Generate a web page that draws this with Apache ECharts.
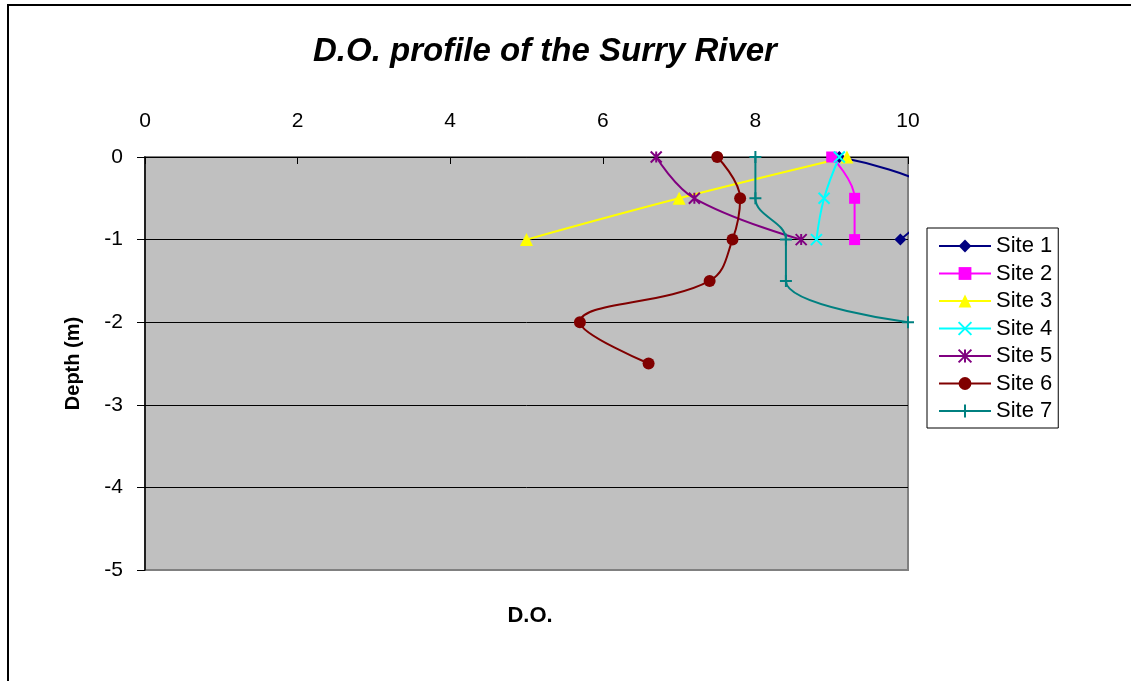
<!DOCTYPE html>
<html>
<head>
<meta charset="utf-8">
<script src="https://cdn.jsdelivr.net/npm/echarts@6/dist/echarts.min.js"></script>
<style>
  html, body { margin: 0; padding: 0; background: #fff; }
  #chart { width: 1131px; height: 681px; }
</style>
</head>
<body>
<div id="chart"></div>
<script>
// depths (m) measured at each site, top down
var depths = [0, -0.5, -1, -1.5, -2, -2.5];
// D.O. readings per site
var site1 = [9.1, 10.4, 9.9];
var site2 = [9.0, 9.3, 9.3];
var site3 = [9.2, 7.0, 5.0];
var site4 = [9.1, 8.9, 8.8];
var site5 = [6.7, 7.2, 8.6];
var site6 = [7.5, 7.8, 7.7, 7.4, 5.7, 6.6];
var site7 = [8.0, 8.0, 8.4, 8.4, 10.0];
var siteNames = ['Site 1', 'Site 2', 'Site 3', 'Site 4', 'Site 5', 'Site 6', 'Site 7'];
var xTicks = [0, 2, 4, 6, 8, 10];
var yTicks = [-5, -4, -3, -2, -1, 0];

var font = '"Liberation Sans", Arial, sans-serif';
var colors = ['#000080', '#FF00FF', '#FFFF00', '#00FFFF', '#800080', '#800000', '#008080'];
var symbols = [
    'diamond',
    'rect',
    'triangle',
    'path://M0,0L10,10M10,0L0,10',            // x
    'path://M0,0L10,10M10,0L0,10M5,0L5,10',   // asterisk
    'circle',
    'path://M5,0L5,10M0,5L10,5'               // plus
];
var sizes = [12, 11, 13, 11, 11, 12, 12];
var stroked = [false, false, false, true, true, false, true];

function pairs(vals){
    var out = [];
    for(var i = 0; i < vals.length; i++){
        out.push([vals[i], depths[i]]);
    }
    return out;
}

var allSites = [site1, site2, site3, site4, site5, site6, site7];
var series = [];
for(var i = 0; i < allSites.length; i++){
    series.push({
        name: siteNames[i],
        type: 'line',
        data: pairs(allSites[i]),
        smooth: 0.4,
        clip: true,
        symbol: symbols[i],
        symbolSize: sizes[i],
        showAllSymbol: true,
        lineStyle: { color: colors[i], width: 2 },
        itemStyle: {
            color: colors[i],
            borderColor: colors[i],
            borderWidth: stroked[i] ? 2 : 0
        }
    });
}

var chart = echarts.init(document.getElementById('chart'));
chart.setOption({
    animation: false,
    backgroundColor: '#fff',
    title: [{
        text: 'D.O. profile of the Surry River',
        left: 540,
        top: 30,
        textAlign: 'center',
        textStyle: { fontFamily: font, fontSize: 33, fontWeight: 'bold', fontStyle: 'italic', color: '#000' }
    }, {
        text: 'D.O.',
        left: 525,
        top: 600,
        textAlign: 'center',
        textStyle: { fontFamily: font, fontSize: 22, fontWeight: 'bold', color: '#000' }
    }],
    graphic: [{
        type: 'rect',
        shape: { x: 8, y: 5, width: 1200, height: 800 },
        style: { fill: 'none', stroke: '#000', lineWidth: 2 },
        silent: true
    }],
    grid: {
        left: 145, top: 157, right: 223, bottom: 111,
        show: true,
        backgroundColor: '#C0C0C0',
        borderColor: '#808080',
        borderWidth: 2
    },
    legend: {
        orient: 'vertical',
        left: 927,
        top: 228,
        padding: [7, 6, 6, 11],
        itemGap: 5.5,
        itemWidth: 52,
        itemHeight: 16,
        borderColor: '#000',
        borderWidth: 1,
        backgroundColor: '#fff',
        data: siteNames,
        textStyle: { fontFamily: font, fontSize: 22, color: '#000' }
    },
    xAxis: {
        type: 'value',
        position: 'top',
        min: 0, max: 10, interval: 2,
        axisLine: { show: true, onZero: false, lineStyle: { color: '#000', width: 1 } },
        axisTick: { show: true, inside: true, length: 7, lineStyle: { color: '#000' } },
        axisLabel: {
            margin: 25, fontFamily: font, fontSize: 21, color: '#000',
            formatter: function(v){ return xTicks.indexOf(v) >= 0 ? String(v) : ''; }
        },
        splitLine: { show: false }
    },
    yAxis: {
        type: 'value',
        min: -5, max: 0, interval: 1,
        name: 'Depth (m)',
        nameLocation: 'middle',
        nameGap: 62,
        nameRotate: 90,
        nameTextStyle: { fontFamily: font, fontSize: 20, fontWeight: 'bold', color: '#000' },
        axisLine: { show: true, onZero: false, lineStyle: { color: '#000', width: 1.5 } },
        axisTick: { show: true, inside: false, length: 8, lineStyle: { color: '#000' } },
        axisLabel: {
            margin: 22, fontFamily: font, fontSize: 21, color: '#000',
            formatter: function(v){ return yTicks.indexOf(v) >= 0 ? String(v) : ''; }
        },
        splitLine: { show: true, lineStyle: { color: ['#808080', '#000', '#000', '#000', '#000', '#000'], width: 1 } }
    },
    series: series
});
</script>
</body>
</html>
